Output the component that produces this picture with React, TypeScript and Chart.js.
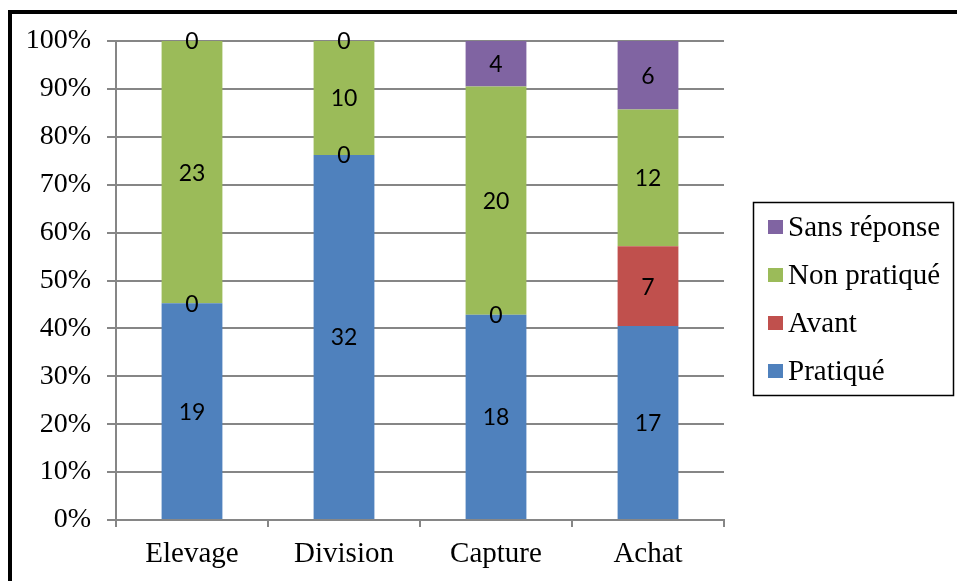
import React, { useEffect, useRef } from "react";
import { Chart, registerables } from "chart.js";

Chart.register(...registerables);

const categories = ["Elevage", "Division", "Capture", "Achat"];
const pratique = [19, 32, 18, 17];
const avant = [0, 0, 0, 7];
const nonPratique = [23, 10, 20, 12];
const sansReponse = [0, 0, 4, 6];
const yTicks = [0, 10, 20, 30, 40, 50, 60, 70, 80, 90, 100];

const seriesNames = ["Pratiqué", "Avant", "Non pratiqué", "Sans réponse"];
const seriesColors = ["#4F81BD", "#C0504D", "#9BBB59", "#8064A2"];
const seriesRaw = [pratique, avant, nonPratique, sansReponse];

const SERIF = "'Liberation Serif', 'Times New Roman', serif";
const SANS = "Lato, 'Open Sans', sans-serif";

export default function App() {
  const ref = useRef<HTMLCanvasElement | null>(null);

  useEffect(() => {
    if (!ref.current) return;
    const totals = categories.map((_, i) =>
      seriesRaw.reduce((s, arr) => s + arr[i], 0)
    );
    const datasets = seriesRaw.map((arr, k) => ({
      label: seriesNames[k],
      data: arr.map((v, i) => (v / totals[i]) * 100),
      raw: arr,
      backgroundColor: seriesColors[k],
      borderWidth: 0,
      barPercentage: 0.4,
      categoryPercentage: 1.0,
    }));

    const labelsPlugin = {
      id: "labels",
      beforeDraw(chart: any) {
        const c = chart.ctx;
        c.save();
        c.fillStyle = "#fff";
        c.fillRect(0, 0, chart.width, chart.height);
        c.restore();
      },
      afterDatasetsDraw(chart: any) {
        const c = chart.ctx;
        c.save();
        c.font = `23px ${SANS}`;
        c.fillStyle = "#000";
        c.textAlign = "center";
        c.textBaseline = "middle";
        chart.data.datasets.forEach((ds: any, di: number) => {
          const meta = chart.getDatasetMeta(di);
          meta.data.forEach((el: any, i: number) => {
            const y = (el.y + el.base) / 2;
            c.fillText(String(ds.raw[i]), el.x, y + 1);
          });
        });
        c.restore();
      },
      afterDraw(chart: any) {
        const c = chart.ctx;
        c.save();
        // frame
        c.fillStyle = "#000";
        c.fillRect(8, 10, 4, chart.height);
        c.fillRect(8, 10, chart.width, 4);
        // legend
        c.strokeStyle = "#000";
        c.lineWidth = 1.5;
        c.strokeRect(753.5, 202.5, 200, 193);
        c.font = `29px ${SERIF}`;
        c.textAlign = "left";
        c.textBaseline = "middle";
        const order = [3, 2, 1, 0];
        order.forEach((k, idx) => {
          const cy = 227 + idx * 48;
          c.fillStyle = chart.data.datasets[k].backgroundColor;
          c.fillRect(768, cy - 7, 15, 14);
          c.fillStyle = "#000";
          c.fillText(chart.data.datasets[k].label, 788, cy + 1);
        });
        c.restore();
      },
    };

    const chart = new Chart(ref.current, {
      type: "bar",
      data: { labels: categories, datasets: datasets as any },
      plugins: [labelsPlugin],
      options: {
        responsive: false,
        animation: false,
        devicePixelRatio: 1,
        layout: { padding: { left: 0, right: 233, top: 41, bottom: 0 } },
        plugins: { legend: { display: false }, tooltip: { enabled: false } },
        scales: {
          x: {
            stacked: true,
            offset: true,
            grid: {
              display: true,
              drawOnChartArea: false,
              offset: true,
              color: "#868686",
              lineWidth: 2,
              tickLength: 7,
            },
            border: { color: "#868686", width: 2 },
            ticks: {
              color: "#000",
              font: { family: SERIF, size: 29 },
              padding: 10,
            },
            afterFit(scale: any) {
              scale.height = 61;
            },
          },
          y: {
            stacked: true,
            min: 0,
            max: 100,
            afterBuildTicks(scale: any) {
              scale.ticks = yTicks.map((v) => ({ value: v }));
            },
            grid: {
              color: "#868686",
              lineWidth: 2,
              tickLength: 9,
            },
            border: { color: "#868686", width: 2 },
            ticks: {
              color: "#000",
              font: { family: SERIF, size: 28 },
              padding: 16,
              callback: (v: any) => `${v}%`,
            },
            afterFit(scale: any) {
              scale.width = 116;
            },
          },
        },
      },
    });
    return () => chart.destroy();
  }, []);

  return (
    <div style={{ position: "absolute", left: 0, top: 0, width: 957, height: 581 }}>
      <canvas ref={ref} width={957} height={581} style={{ display: "block" }} />
    </div>
  );
}
